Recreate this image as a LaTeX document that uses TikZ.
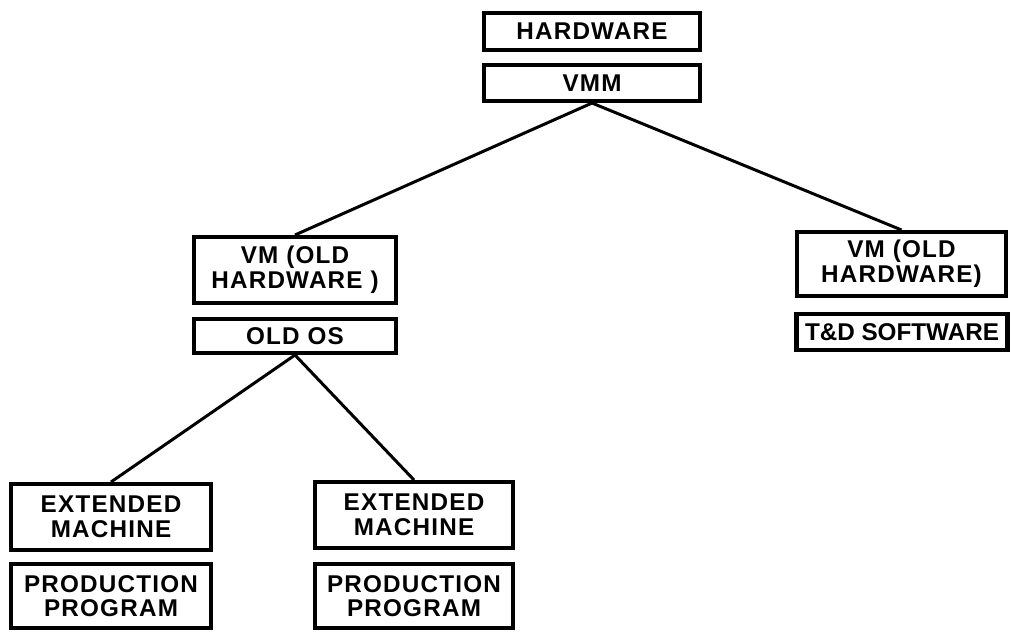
\documentclass[tikz,border=0pt]{standalone}
\usepackage{fontspec}
\newfontfamily\lettering[LetterSpace=5]{Liberation Sans}
\newfontfamily\letteringtight{Liberation Sans}
\begin{document}
\begin{tikzpicture}[x=0.2mm,y=-0.2mm,
	box/.style={draw,line width=2.3pt,inner sep=0pt,align=center,
		font=\lettering\bfseries\fontsize{13.8}{14}\selectfont},
	wire/.style={line width=1.7pt}]
	\useasboundingbox (0,0) rectangle (1012,633);
	% top of the tree
	\node[box,minimum width=43.2mm,minimum height=7.4mm] (hw) at (592,31.5) {HARDWARE};
	\node[box,minimum width=43.2mm,minimum height=7.2mm] (vmm) at (592,83) {VMM};
	% the two virtual machines
	\node[box,minimum width=40.4mm,minimum height=13.2mm] (vmL) at (295,270) {VM (OLD\\HARDWARE )};
	\node[box,minimum width=40.4mm,minimum height=6.8mm] (oldos) at (295,336) {OLD OS};
	\node[box,minimum width=41.8mm,minimum height=12.8mm] (vmR) at (901.5,264) {VM (OLD\\HARDWARE)};
	\node[box,minimum width=42.2mm,minimum height=7.2mm,font=\letteringtight\bfseries\fontsize{13.8}{14}\selectfont] (tdsw) at (902,332) {T\&D SOFTWARE};
	% extended machines
	\node[box,minimum width=40mm,minimum height=13.2mm] (emL) at (111,517) {EXTENDED\\MACHINE};
	\node[box,minimum width=40mm,minimum height=12.8mm] (ppL) at (111,596) {PRODUCTION\\PROGRAM};
	\node[box,minimum width=39.6mm,minimum height=13.2mm] (emR) at (414,515) {EXTENDED\\MACHINE};
	\node[box,minimum width=39.6mm,minimum height=12.8mm] (ppR) at (414,596) {PRODUCTION\\PROGRAM};
	% connectors
	\draw[wire] (vmm.south) -- (vmL.north);
	\draw[wire] (vmm.south) -- (vmR.north);
	\draw[wire] (oldos.south) -- (emL.north);
	\draw[wire] (oldos.south) -- (emR.north);
\end{tikzpicture}
\end{document}
